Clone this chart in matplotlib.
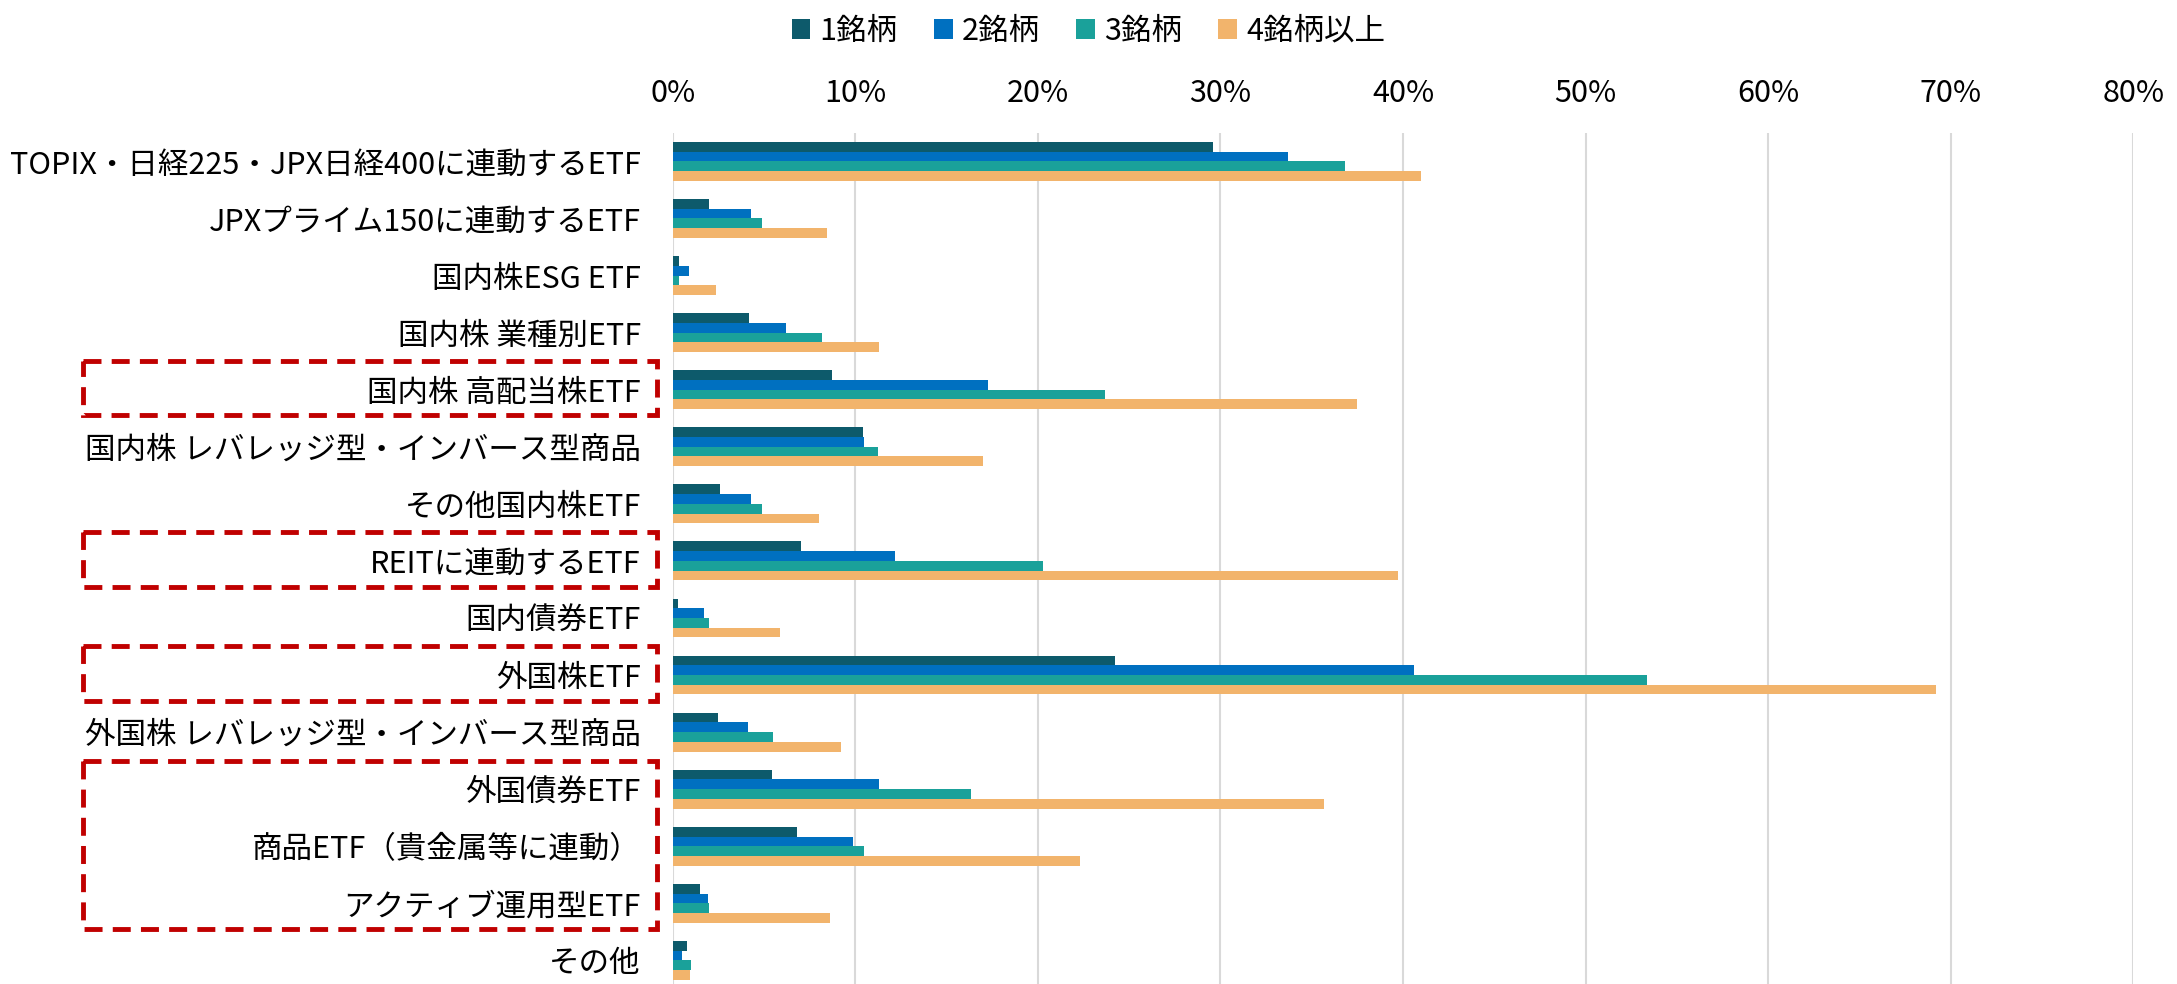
import numpy as np
import matplotlib
matplotlib.use("Agg")
import matplotlib.pyplot as plt
import matplotlib.transforms as mtransforms
from matplotlib.patches import Rectangle
from matplotlib.ticker import PercentFormatter

plt.rcParams['font.family'] = ['Noto Sans CJK JP', 'DejaVu Sans']

categories = [
    'TOPIX・日経225・JPX日経400に連動するETF',
    'JPXプライム150に連動するETF',
    '国内株ESG ETF',
    '国内株 業種別ETF',
    '国内株 高配当株ETF',
    '国内株 レバレッジ型・インバース型商品',
    'その他国内株ETF',
    'REITに連動するETF',
    '国内債券ETF',
    '外国株ETF',
    '外国株 レバレッジ型・インバース型商品',
    '外国債券ETF',
    '商品ETF（貴金属等に連動）',
    'アクティブ運用型ETF',
    'その他',
]
series_names = ['1銘柄', '2銘柄', '3銘柄', '4銘柄以上']

# values in %
one = [29.6, 2.0, 0.35, 4.2, 8.7, 10.4, 2.6, 7.0, 0.3, 24.2, 2.5, 5.45, 6.8, 1.5, 0.8]
two = [33.7, 4.3, 0.9, 6.2, 17.25, 10.5, 4.3, 12.15, 1.7, 40.6, 4.1, 11.3, 9.9, 1.95, 0.5]
three = [36.8, 4.9, 0.35, 8.15, 23.7, 11.25, 4.9, 20.3, 2.0, 53.35, 5.5, 16.35, 10.45, 2.0, 1.0]
four = [41.0, 8.45, 2.35, 11.3, 37.45, 17.0, 8.0, 39.7, 5.85, 69.2, 9.2, 35.65, 22.3, 8.6, 0.95]

colors = ['#0D5A6B', '#0070C0', '#1AA19A', '#F2B46C']

# red dashed highlight groups (first, last category index)
highlights = [(4, 4), (7, 7), (9, 9), (11, 13)]

fig = plt.figure(figsize=(21.77, 9.84), dpi=100)
ax = fig.add_axes([0.309, -0.005, 0.671, 0.870])

y = np.arange(len(categories))
h = 0.17
for k, vals in enumerate([one, two, three, four]):
    ax.barh(y + (k - 1.5) * h, np.array(vals) / 100, height=h,
            color=colors[k], label=series_names[k], zorder=3)

ax.set_xlim(0, 0.8)
ax.set_ylim(len(categories) - 0.5, -0.5)
ax.set_xticks(np.arange(0, 0.81, 0.1))
ax.xaxis.set_major_formatter(PercentFormatter(1.0, decimals=0))
ax.xaxis.tick_top()
ax.set_yticks(y)
ax.set_yticklabels(categories)
ax.tick_params(axis='x', length=0, pad=17, labelsize=22, colors='black')
ax.tick_params(axis='y', length=0, pad=23, labelsize=22, colors='black')
ax.grid(axis='x', color='#D9D9D9', linewidth=1.5, zorder=0)
for s in ax.spines.values():
    s.set_visible(False)

trans = mtransforms.blended_transform_factory(fig.transFigure, ax.transData)
for i0, i1 in highlights:
    top = i0 - 0.5
    bot = i1 + 0.45
    rect = Rectangle((0.038, top), 0.264, bot - top, transform=trans,
                     fill=False, edgecolor='#C00000', linewidth=3.5,
                     linestyle=(0, (3.7, 2.1)), clip_on=False)
    fig.add_artist(rect)

fig.legend(loc='upper center', bbox_to_anchor=(0.5, 1.012), ncol=4, frameon=False,
           fontsize=22, handlelength=0.6, handleheight=0.6, handletextpad=0.3,
           columnspacing=1.2)

fig.savefig('out.png', dpi=100)
